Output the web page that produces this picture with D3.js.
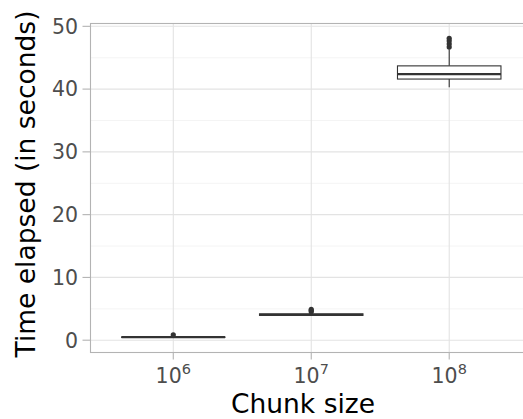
<!DOCTYPE html>
<html>
<head>
<meta charset="utf-8">
<script src="https://cdn.jsdelivr.net/npm/d3@7"></script>
<style>
    body { margin: 0; background: #fff; }
    svg { display: block; font-family: 'DejaVu Sans', sans-serif; }
</style>
</head>
<body>
<svg id="chart" width="523" height="419"></svg>
<script>
/**
 * Boxplot of elapsed time per chunk size.
 */
const categories = ['6', '7', '8']; // exponent of 10
const whiskerLow = [0.42, 3.85, 40.3];
const q1 = [0.46, 3.95, 41.6];
const median = [0.48, 4.05, 42.4];
const q3 = [0.50, 4.20, 43.7];
const whiskerHigh = [0.55, 4.30, 46.3];
const outliers = [[0.85], [4.55, 4.75, 4.9], [46.7, 47.2, 47.7, 48.1]];
const yTicks = [0, 10, 20, 30, 40, 50];

const margin = { top: 23.5, left: 90.5 },
    panelRight = 532,
    panelBottom = 352.5;

const svg = d3.select('#chart');

const boxData = categories.map((c, i) => ({
    cat: c,
    lo: whiskerLow[i], q1: q1[i], med: median[i], q3: q3[i], hi: whiskerHigh[i],
    out: outliers[i]
}));

// Discrete x with 0.6 expansion on each side
const xScale = d3.scalePoint().domain(categories)
    .range([margin.left, panelRight]).padding(0.6);
const step = xScale.step();
const yScale = d3.scaleLinear().domain([-1.96, 50.45]).range([panelBottom, margin.top]);

const panel = svg.append('g').attr('class', 'panel');

// Minor grid
panel.selectAll('.minor').data(d3.range(5, 50, 10)).join('line')
    .attr('x1', margin.left).attr('x2', panelRight)
    .attr('y1', d => yScale(d)).attr('y2', d => yScale(d))
    .attr('stroke', '#f1f1f1').attr('stroke-width', 0.8);

// Major grid
panel.selectAll('.major-y').data(yTicks).join('line')
    .attr('x1', margin.left).attr('x2', panelRight)
    .attr('y1', d => yScale(d)).attr('y2', d => yScale(d))
    .attr('stroke', '#e3e3e3').attr('stroke-width', 1.1);
panel.selectAll('.major-x').data(categories).join('line')
    .attr('x1', d => xScale(d)).attr('x2', d => xScale(d))
    .attr('y1', margin.top).attr('y2', panelBottom)
    .attr('stroke', '#e3e3e3').attr('stroke-width', 1.1);

// Boxes
const boxW = step * 0.75;
const boxes = panel.selectAll('.box').data(boxData).join('g').attr('class', 'box');
boxes.append('line')
    .attr('x1', d => xScale(d.cat)).attr('x2', d => xScale(d.cat))
    .attr('y1', d => yScale(d.hi)).attr('y2', d => yScale(d.q3))
    .attr('stroke', '#333').attr('stroke-width', 1.1);
boxes.append('line')
    .attr('x1', d => xScale(d.cat)).attr('x2', d => xScale(d.cat))
    .attr('y1', d => yScale(d.q1)).attr('y2', d => yScale(d.lo))
    .attr('stroke', '#333').attr('stroke-width', 1.1);
boxes.append('rect')
    .attr('x', d => xScale(d.cat) - boxW / 2).attr('width', boxW)
    .attr('y', d => yScale(d.q3)).attr('height', d => yScale(d.q1) - yScale(d.q3))
    .attr('fill', '#fff').attr('stroke', '#333').attr('stroke-width', 1.1);
boxes.append('line')
    .attr('x1', d => xScale(d.cat) - boxW / 2).attr('x2', d => xScale(d.cat) + boxW / 2)
    .attr('y1', d => yScale(d.med)).attr('y2', d => yScale(d.med))
    .attr('stroke', '#333').attr('stroke-width', 2.2);
boxes.each(function(d) {
    d3.select(this).selectAll('circle').data(d.out).join('circle')
        .attr('cx', xScale(d.cat)).attr('cy', v => yScale(v))
        .attr('r', 2.6).attr('fill', '#333');
});

// Panel border
svg.append('rect')
    .attr('x', margin.left).attr('y', margin.top)
    .attr('width', panelRight - margin.left).attr('height', panelBottom - margin.top)
    .attr('fill', 'none').attr('stroke', '#b3b3b3').attr('stroke-width', 1.1);

// Y axis ticks + labels
const yAxisG = svg.append('g');
yAxisG.selectAll('line').data(yTicks).join('line')
    .attr('x1', margin.left - 8).attr('x2', margin.left)
    .attr('y1', d => yScale(d)).attr('y2', d => yScale(d))
    .attr('stroke', '#b3b3b3').attr('stroke-width', 1.1);
yAxisG.selectAll('text').data(yTicks).join('text')
    .attr('x', 78).attr('y', d => yScale(d))
    .attr('dy', '0.36em').attr('text-anchor', 'end')
    .attr('font-size', 20.5).attr('fill', '#4d4d4d')
    .text(d => d);

// X axis ticks + labels
const xAxisG = svg.append('g');
xAxisG.selectAll('line').data(categories).join('line')
    .attr('x1', d => xScale(d)).attr('x2', d => xScale(d))
    .attr('y1', panelBottom).attr('y2', panelBottom + 7)
    .attr('stroke', '#b3b3b3').attr('stroke-width', 1.1);
const xLabels = xAxisG.selectAll('text').data(categories).join('text')
    .attr('x', d => xScale(d)).attr('y', 383)
    .attr('text-anchor', 'middle')
    .attr('font-size', 20.5).attr('fill', '#4d4d4d');
xLabels.append('tspan').text('10');
xLabels.append('tspan').attr('dy', -9).attr('font-size', 14.5).text(d => d);

// Axis titles
svg.append('text')
    .attr('x', 303).attr('y', 413)
    .attr('text-anchor', 'middle').attr('font-size', 26.5).attr('fill', '#000')
    .text('Chunk size');
svg.append('text')
    .attr('transform', 'translate(35,184) rotate(-90)')
    .attr('text-anchor', 'middle').attr('font-size', 26.5).attr('fill', '#000')
    .text('Time elapsed (in seconds)');
</script>
</body>
</html>
